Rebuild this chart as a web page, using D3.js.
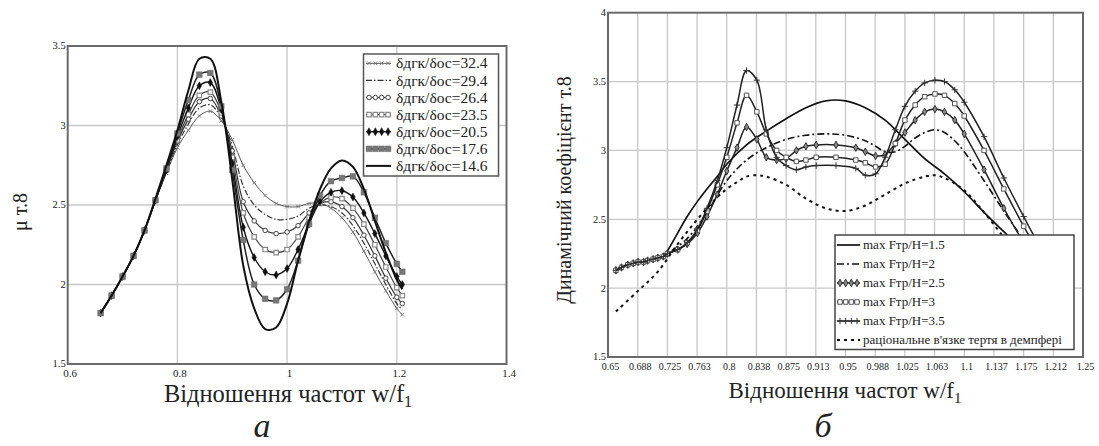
<!DOCTYPE html>
<html>
<head>
<meta charset="utf-8">
<script src="https://cdn.jsdelivr.net/npm/d3@7"></script>
<style>
  body { margin: 0; background: #fff; }
  svg text { font-family: "Liberation Serif", "Times New Roman", Times, "DejaVu Serif", serif; fill: #222; }
</style>
</head>
<body>
<svg id="chart" width="1099" height="446" font-family="Liberation Serif, DejaVu Serif, serif"></svg>
<script>
// ---------- data: left panel (a) ----------
const leftX = [0.66, 0.68, 0.70, 0.72, 0.74, 0.76, 0.78, 0.80, 0.82, 0.84, 0.86, 0.88, 0.90, 0.92, 0.94,
               0.96, 0.98, 1.00, 1.02, 1.04, 1.06, 1.08, 1.10, 1.12, 1.14, 1.16, 1.18, 1.20, 1.21];
const mu324 = [1.82, 1.93, 2.05, 2.18, 2.34, 2.53, 2.70, 2.86, 2.97, 3.06, 3.09, 3.03, 2.91, 2.75, 2.64,
               2.56, 2.51, 2.49, 2.49, 2.51, 2.51, 2.48, 2.42, 2.33, 2.21, 2.08, 1.96, 1.85, 1.81];
const mu294 = [1.82, 1.93, 2.05, 2.18, 2.34, 2.53, 2.71, 2.88, 3.01, 3.11, 3.13, 3.05, 2.87, 2.62, 2.50,
               2.44, 2.41, 2.41, 2.43, 2.48, 2.50, 2.49, 2.45, 2.37, 2.26, 2.13, 2.00, 1.88, 1.84];
const mu264 = [1.82, 1.93, 2.05, 2.18, 2.34, 2.53, 2.72, 2.90, 3.04, 3.15, 3.17, 3.06, 2.84, 2.52, 2.40,
               2.34, 2.32, 2.33, 2.37, 2.45, 2.51, 2.52, 2.49, 2.42, 2.31, 2.18, 2.04, 1.92, 1.88];
const mu235 = [1.82, 1.93, 2.05, 2.18, 2.34, 2.53, 2.72, 2.91, 3.07, 3.19, 3.21, 3.08, 2.80, 2.45, 2.30,
               2.22, 2.20, 2.22, 2.30, 2.42, 2.51, 2.55, 2.54, 2.48, 2.38, 2.25, 2.11, 1.98, 1.93];
const mu205 = [1.82, 1.93, 2.05, 2.18, 2.34, 2.53, 2.72, 2.93, 3.11, 3.25, 3.27, 3.10, 2.76, 2.36, 2.17,
               2.08, 2.06, 2.10, 2.22, 2.38, 2.52, 2.58, 2.59, 2.55, 2.45, 2.32, 2.18, 2.05, 2.00];
const mu176 = [1.82, 1.93, 2.05, 2.18, 2.34, 2.53, 2.73, 2.95, 3.16, 3.32, 3.33, 3.12, 2.72, 2.28, 2.00,
               1.91, 1.90, 1.97, 2.15, 2.38, 2.56, 2.65, 2.67, 2.68, 2.58, 2.42, 2.26, 2.13, 2.08];
const mu146 = [1.82, 1.93, 2.05, 2.18, 2.34, 2.54, 2.75, 2.97, 3.22, 3.42, 3.42, 3.15, 2.66, 2.12, 1.85,
               1.72, 1.73, 1.88, 2.15, 2.40, 2.60, 2.73, 2.78, 2.74, 2.60, 2.40, 2.20, 2.03, 1.97];
const leftNames = ["δдгк/δос=32.4", "δдгк/δос=29.4", "δдгк/δос=26.4", "δдгк/δос=23.5",
                   "δдгк/δос=20.5", "δдгк/δос=17.6", "δдгк/δос=14.6"];
const leftXTicks = [0.6, 0.8, 1, 1.2, 1.4];
const leftYTicks = [1.5, 2, 2.5, 3, 3.5];

// ---------- data: right panel (б) ----------
const startBundle = [[0.66, 2.13], [0.667, 2.15], [0.675, 2.17], [0.682, 2.18], [0.688, 2.19],
                     [0.695, 2.19], [0.70, 2.20], [0.707, 2.21], [0.713, 2.22], [0.72, 2.23]];
const f15 = startBundle.concat([[0.725, 2.27], [0.738, 2.40], [0.75, 2.52], [0.763, 2.63], [0.775, 2.72],
  [0.788, 2.81], [0.80, 2.90], [0.825, 3.04], [0.85, 3.14], [0.875, 3.23], [0.90, 3.31], [0.925, 3.36],
  [0.95, 3.36], [0.975, 3.31], [1.0, 3.22], [1.025, 3.08], [1.05, 2.94], [1.075, 2.83], [1.10, 2.70],
  [1.125, 2.55], [1.15, 2.41], [1.175, 2.27], [1.20, 2.13]]);
const f20 = startBundle.concat([[0.725, 2.25], [0.75, 2.36], [0.775, 2.55], [0.80, 2.78], [0.825, 2.93],
  [0.85, 3.02], [0.875, 3.08], [0.90, 3.11], [0.925, 3.12], [0.95, 3.11], [0.975, 3.07], [0.988, 3.03],
  [1.0, 2.99], [1.013, 2.99], [1.025, 3.03], [1.038, 3.09], [1.05, 3.13], [1.063, 3.15], [1.075, 3.13],
  [1.088, 3.07], [1.10, 2.99], [1.125, 2.78], [1.15, 2.56], [1.175, 2.35], [1.20, 2.15]]);
const f25 = startBundle.concat([[0.725, 2.25], [0.738, 2.28], [0.75, 2.32], [0.763, 2.40], [0.775, 2.52],
  [0.788, 2.68], [0.80, 2.85], [0.813, 3.02], [0.825, 3.17], [0.838, 3.08], [0.85, 2.95], [0.863, 2.93],
  [0.875, 2.94], [0.888, 3.00], [0.90, 3.03], [0.913, 3.04], [0.938, 3.04], [0.963, 3.02], [0.975, 2.99],
  [0.988, 2.96], [1.0, 2.97], [1.013, 3.05], [1.025, 3.13], [1.038, 3.22], [1.05, 3.28], [1.063, 3.30],
  [1.075, 3.28], [1.088, 3.22], [1.10, 3.12], [1.125, 2.86], [1.15, 2.58], [1.175, 2.33], [1.20, 2.10]]);
const f30 = startBundle.concat([[0.725, 2.25], [0.738, 2.28], [0.75, 2.33], [0.763, 2.42], [0.775, 2.56],
  [0.788, 2.75], [0.80, 2.95], [0.813, 3.20], [0.825, 3.40], [0.838, 3.28], [0.85, 3.12], [0.863, 3.00],
  [0.875, 2.95], [0.888, 2.92], [0.90, 2.93], [0.913, 2.95], [0.938, 2.95], [0.963, 2.93], [0.975, 2.91],
  [0.988, 2.88], [1.0, 2.90], [1.013, 3.05], [1.025, 3.22], [1.038, 3.33], [1.05, 3.39], [1.063, 3.41],
  [1.075, 3.40], [1.088, 3.34], [1.10, 3.25], [1.125, 3.00], [1.15, 2.72], [1.175, 2.45], [1.20, 2.20]]);
const f35 = startBundle.concat([[0.725, 2.25], [0.738, 2.28], [0.75, 2.33], [0.763, 2.43], [0.775, 2.58],
  [0.788, 2.78], [0.80, 3.02], [0.813, 3.33], [0.825, 3.58], [0.838, 3.51], [0.85, 3.15], [0.863, 2.95],
  [0.875, 2.89], [0.888, 2.86], [0.90, 2.88], [0.913, 2.89], [0.938, 2.89], [0.963, 2.87], [0.975, 2.82],
  [0.988, 2.83], [1.0, 2.95], [1.013, 3.15], [1.025, 3.32], [1.038, 3.43], [1.05, 3.49], [1.063, 3.51],
  [1.075, 3.50], [1.088, 3.44], [1.10, 3.35], [1.125, 3.10], [1.15, 2.80], [1.175, 2.52], [1.20, 2.25]]);
const rational = [[0.66, 1.83], [0.688, 1.98], [0.713, 2.12], [0.738, 2.32], [0.763, 2.50], [0.788, 2.66],
  [0.80, 2.72], [0.813, 2.77], [0.825, 2.81], [0.838, 2.82], [0.85, 2.81], [0.875, 2.75], [0.90, 2.65],
  [0.925, 2.58], [0.95, 2.56], [0.975, 2.60], [1.0, 2.68], [1.025, 2.76], [1.05, 2.81], [1.063, 2.82],
  [1.075, 2.80], [1.10, 2.71], [1.125, 2.55], [1.15, 2.37], [1.175, 2.20]];
const rightNames = ["max Fтр/H=1.5", "max Fтр/H=2", "max Fтр/H=2.5", "max Fтр/H=3", "max Fтр/H=3.5",
                    "раціональне в'язке тертя в демпфері"];
const rightXLabels = ["0.65", "0.688", "0.725", "0.763", "0.8", "0.838", "0.875", "0.913", "0.95",
                      "0.988", "1.025", "1.063", "1.1", "1.137", "1.175", "1.212", "1.25"];
const rightYTicks = [1.5, 2, 2.5, 3, 3.5, 4];

// ---------- helpers ----------
const svg = d3.select("#chart");
const serif = "'Liberation Serif', 'Times New Roman', 'DejaVu Serif', serif";

const symPlus = { draw(ctx, size) { const r = Math.sqrt(size) / 2;
  ctx.moveTo(-r, 0); ctx.lineTo(r, 0); ctx.moveTo(0, -r); ctx.lineTo(0, r); } };
const symX = { draw(ctx, size) { const r = Math.sqrt(size) / 2.6;
  ctx.moveTo(-r, -r); ctx.lineTo(r, r); ctx.moveTo(-r, r); ctx.lineTo(r, -r); } };

function addText(g, x, y, size) {
  return g.append("text").attr("x", x).attr("y", y)
    .style("font-family", serif).style("font-size", size + "px").style("fill", "#222");
}

function drawFrame(g, x, y, xTicks, xLabels, yTicks, xFont, yFont) {
  const [x0, x1] = x.range(), [y1, y0] = y.range();
  // grid
  g.selectAll(".vg").data(xTicks.slice(1, -1)).enter().append("line")
    .attr("x1", d => x(d)).attr("x2", d => x(d)).attr("y1", y0).attr("y2", y1)
    .attr("stroke", "#c8c8c8").attr("stroke-width", 1.3);
  g.selectAll(".hg").data(yTicks.slice(1, -1)).enter().append("line")
    .attr("x1", x0).attr("x2", x1).attr("y1", d => y(d)).attr("y2", d => y(d))
    .attr("stroke", "#c8c8c8").attr("stroke-width", 1.3);
  // tick labels
  xTicks.forEach((d, i) => addText(g, x(d) + 2.5, y1 + 13, xFont)
    .attr("text-anchor", "middle").text(xLabels[i]));
  yTicks.forEach(d => addText(g, x0 - 2, y(d), yFont)
    .attr("dy", "0.32em").attr("text-anchor", "end").text(d));
}

function drawBorder(g, x, y) {
  const [x0, x1] = x.range(), [y1, y0] = y.range();
  g.append("rect").attr("x", x0).attr("y", y0).attr("width", x1 - x0).attr("height", y1 - y0)
    .attr("fill", "none").attr("stroke", "#6a6a6a").attr("stroke-width", 2);
}

function drawMarkers(g, pts, st) {
  if (!st.marker) return;
  const sym = d3.symbol().type(st.marker).size(st.msize);
  g.selectAll(null).data(pts).enter().append("path")
    .attr("transform", d => `translate(${d[0]},${d[1]})`)
    .attr("d", sym)
    .attr("fill", st.mfill).attr("stroke", st.mstroke).attr("stroke-width", st.mwidth);
}

function drawSeries(g, pts, st) {
  g.append("path").datum(pts)
    .attr("d", d3.line().curve(d3.curveCatmullRom.alpha(0.5)))
    .attr("fill", "none").attr("stroke", st.color).attr("stroke-width", st.width)
    .attr("stroke-dasharray", st.dash || null);
  drawMarkers(g, pts, st);
}

function legendSample(g, x0, x1, yy, st) {
  g.append("line").attr("x1", x0).attr("x2", x1).attr("y1", yy).attr("y2", yy)
    .attr("stroke", st.color).attr("stroke-width", st.width).attr("stroke-dasharray", st.dash || null);
  if (st.marker) {
    const n = 4;
    drawMarkers(g, d3.range(n).map(i => [x0 + 3 + i * (x1 - x0 - 6) / (n - 1), yy]), st);
  }
}

// ---------- left panel ----------
const lx = d3.scaleLinear().domain([0.6, 1.4]).range([67.7, 506.5]);
const ly = d3.scaleLinear().domain([1.5, 3.5]).range([364, 46]);
const gl = svg.append("g");
drawFrame(gl, lx, ly, leftXTicks, leftXTicks.map(String), leftYTicks, 11, 10.5);

const leftSeries = [mu324, mu294, mu264, mu235, mu205, mu176, mu146];
const leftStyles = [
  { color: "#555", width: 1, marker: symX, msize: 22, mfill: "none", mstroke: "#777", mwidth: 0.9 },
  { color: "#333", width: 1.2, dash: "6,2,1.5,2" },
  { color: "#333", width: 1.2, marker: d3.symbolCircle, msize: 16, mfill: "#fff", mstroke: "#444", mwidth: 1 },
  { color: "#444", width: 1.2, marker: d3.symbolSquare, msize: 20, mfill: "#fff", mstroke: "#888", mwidth: 1.2 },
  { color: "#111", width: 1.4, marker: d3.symbolDiamond, msize: 18, mfill: "#111", mstroke: "#111", mwidth: 0.5 },
  { color: "#222", width: 1.5, marker: d3.symbolSquare, msize: 32, mfill: "#777", mstroke: "#666", mwidth: 0.5 },
  { color: "#111", width: 2 }
];
leftSeries.forEach((vals, k) => {
  const pts = leftX.map((xv, i) => [lx(xv), ly(vals[i])]);
  drawSeries(gl, pts, leftStyles[k]);
});
drawBorder(gl, lx, ly);

// legend a
const lgA = gl.append("g");
lgA.append("rect").attr("x", 363.5).attr("y", 54).attr("width", 135).attr("height", 122)
  .attr("fill", "#fff").attr("stroke", "#555").attr("stroke-width", 1.5);
leftNames.forEach((name, i) => {
  const yy = 63.3 + i * 17.1;
  legendSample(lgA, 366, 391, yy, leftStyles[i]);
  addText(lgA, 396, yy, 15.5).attr("dy", "0.33em").text(name);
});

// titles a
addText(gl, 288, 402, 24.5).attr("text-anchor", "middle")
  .html('Відношення частот w/f<tspan dy="5" font-size="16px">1</tspan>');
addText(gl, 0, 0, 20).attr("transform", "translate(27,212) rotate(-90)")
  .attr("text-anchor", "middle").text("μ т.8");
addText(gl, 262, 437, 34).attr("text-anchor", "middle").style("font-style", "italic").text("а");

// ---------- right panel ----------
const rx = d3.scaleLinear().domain([0.65, 1.25]).range([608, 1083]);
const ry = d3.scaleLinear().domain([1.5, 4]).range([357, 12.7]);
const rightXTicks = d3.range(rightXLabels.length).map(i => 0.65 + i * 0.0375);
const gr = svg.append("g");
drawFrame(gr, rx, ry, rightXTicks, rightXLabels, rightYTicks, 10, 10.5);

svg.append("clipPath").attr("id", "rclip").append("rect")
  .attr("x", 608).attr("y", 12.7).attr("width", 475).attr("height", 344.3);
const grc = gr.append("g").attr("clip-path", "url(#rclip)");
const rightSeries = [f15, f20, f25, f30, f35, rational];
const rightStyles = [
  { color: "#111", width: 1.7 },
  { color: "#111", width: 1.6, dash: "7,3,2,3" },
  { color: "#222", width: 1.5, marker: d3.symbolDiamond, msize: 16, mfill: "#888", mstroke: "#222", mwidth: 0.9 },
  { color: "#222", width: 1.5, marker: d3.symbolSquare, msize: 20, mfill: "#fff", mstroke: "#555", mwidth: 1 },
  { color: "#222", width: 1.5, marker: symPlus, msize: 40, mfill: "none", mstroke: "#333", mwidth: 1 },
  { color: "#111", width: 2, dash: "3,4" }
];
rightSeries.forEach((pts, k) => {
  drawSeries(grc, pts.map(p => [rx(p[0]), ry(p[1])]), rightStyles[k]);
});
drawBorder(gr, rx, ry);

// legend б
const lgB = gr.append("g");
lgB.append("rect").attr("x", 835).attr("y", 235).attr("width", 239).attr("height", 114.5)
  .attr("fill", "#fff").attr("stroke", "#444").attr("stroke-width", 1.5);
rightNames.forEach((name, i) => {
  const yy = 245 + i * 19;
  legendSample(lgB, 837, 860, yy, rightStyles[i]);
  addText(lgB, 863, yy, 13).attr("dy", "0.33em").text(name);
});

// titles б
addText(gr, 845, 398, 23).attr("text-anchor", "middle")
  .html('Відношення частот w/f<tspan dy="5" font-size="15px">1</tspan>');
addText(gr, 0, 0, 20).attr("transform", "translate(571,190) rotate(-90)")
  .attr("text-anchor", "middle").text("Динамічний коефіцієнт т.8");
addText(gr, 823, 437, 34).attr("text-anchor", "middle").style("font-style", "italic").text("б");
</script>
</body>
</html>
